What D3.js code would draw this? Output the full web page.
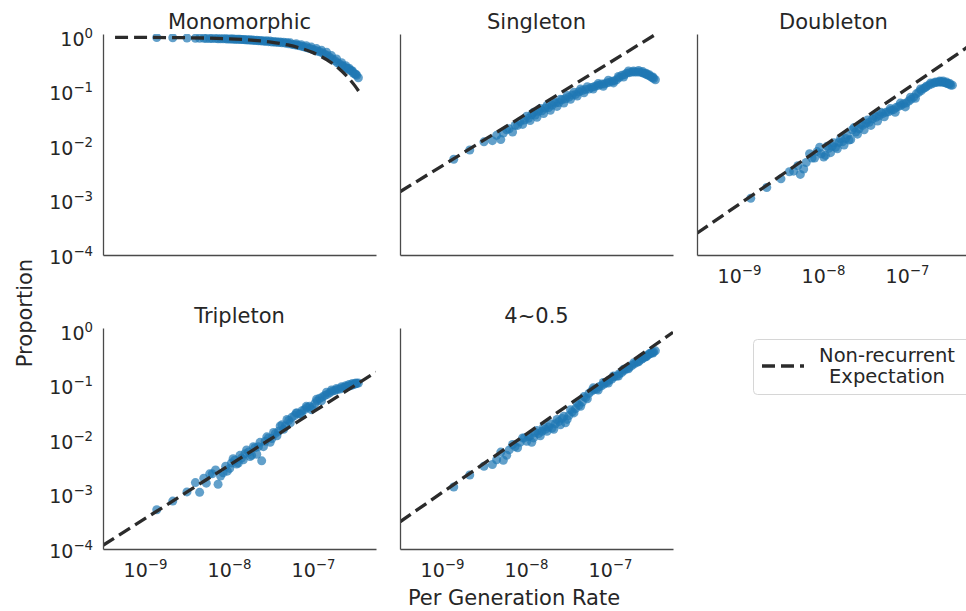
<!DOCTYPE html>
<html><head><meta charset="utf-8">
<script src="https://cdn.jsdelivr.net/npm/d3@7"></script>
<style>
body{margin:0;background:#fff}
svg{display:block}
text{font-family:"DejaVu Sans",sans-serif;fill:#262626}
</style>
</head><body>
<svg id="c" width="966" height="611"></svg>
<script>
// ---------- data ----------
const panelTitles = ["Monomorphic", "Singleton", "Doubleton", "Tripleton", "4~0.5"];
const xTicks = [1e-9, 1e-8, 1e-7];
const yTicks = [1e-4, 1e-3, 1e-2, 1e-1, 1];

// per generation rate, first group of bins (shared by all panels)
const rate = [1.38e-9, 2.14e-9, 3.16e-9, 3.98e-9, 4.47e-9, 5.37e-9, 6.31e-9, 7.41e-9, 8.51e-9, 9.55e-9,
  1.07e-8, 1.17e-8, 1.29e-8, 1.41e-8, 1.55e-8, 1.70e-8, 1.86e-8, 2.04e-8, 2.24e-8, 2.45e-8,
  2.69e-8, 2.95e-8, 3.24e-8, 3.55e-8, 3.89e-8, 4.27e-8, 4.68e-8, 5.13e-8, 5.62e-8, 6.03e-8,
  6.46e-8, 6.92e-8, 7.41e-8, 7.94e-8, 8.51e-8, 9.12e-8, 9.77e-8, 1.05e-7, 1.12e-7, 1.20e-7,
  1.29e-7, 1.38e-7, 1.48e-7, 1.58e-7, 1.70e-7, 1.82e-7, 1.95e-7, 2.09e-7, 2.24e-7, 2.40e-7,
  2.51e-7, 2.63e-7, 2.75e-7, 2.88e-7, 3.02e-7, 3.16e-7, 3.31e-7, 3.47e-7];

const monomorphic = [0.99, 0.98, 0.97, 0.96, 0.96, 0.95, 0.95, 0.94, 0.94, 0.93,
  0.93, 0.92, 0.92, 0.91, 0.90, 0.89, 0.88, 0.87, 0.86, 0.85,
  0.84, 0.83, 0.82, 0.81, 0.80, 0.79, 0.78, 0.76, 0.74, 0.73,
  0.71, 0.70, 0.68, 0.66, 0.64, 0.62, 0.60, 0.58, 0.56, 0.54,
  0.52, 0.49, 0.46, 0.43, 0.40, 0.37, 0.34, 0.32, 0.30, 0.28,
  0.27, 0.26, 0.25, 0.24, 0.22, 0.21, 0.20, 0.18];

const singleton = [5.75e-3, 8.51e-3, 1.20e-2, 1.26e-2, 1.58e-2, 1.74e-2, 2.09e-2, 2.40e-2, 2.82e-2, 3.02e-2,
  3.24e-2, 3.80e-2, 3.72e-2, 4.37e-2, 4.47e-2, 5.01e-2, 5.13e-2, 5.62e-2, 6.17e-2, 6.31e-2,
  7.08e-2, 7.41e-2, 7.94e-2, 8.71e-2, 8.91e-2, 0.100, 0.105, 0.110, 0.112, 0.120,
  0.123, 0.129, 0.132, 0.138, 0.138, 0.145, 0.148, 0.155, 0.158, 0.166,
  0.182, 0.200, 0.204, 0.219, 0.224, 0.229, 0.229, 0.229, 0.229, 0.224,
  0.219, 0.214, 0.204, 0.200, 0.191, 0.182, 0.174, 0.166];

const doubleton = [1.10e-3, 1.74e-3, 2.51e-3, 3.39e-3, 3.47e-3, 3.02e-3, 5.01e-3, 6.03e-3, 7.94e-3, 7.24e-3,
  6.76e-3, 9.12e-3, 1.00e-2, 9.55e-3, 1.17e-2, 1.20e-2, 1.38e-2, 1.29e-2, 2.00e-2, 1.82e-2,
  2.09e-2, 2.40e-2, 2.63e-2, 2.75e-2, 3.16e-2, 3.39e-2, 3.63e-2, 3.98e-2, 4.17e-2, 4.27e-2,
  4.57e-2, 4.68e-2, 5.13e-2, 5.37e-2, 5.62e-2, 6.03e-2, 6.17e-2, 6.76e-2, 7.24e-2, 7.94e-2,
  9.12e-2, 9.77e-2, 0.105, 0.115, 0.126, 0.132, 0.138, 0.145, 0.148, 0.151,
  0.151, 0.151, 0.148, 0.145, 0.141, 0.138, 0.132, 0.132];

const tripleton = [5.25e-4, 7.59e-4, 1.12e-3, 1.66e-3, 1.10e-3, 1.62e-3, 2.40e-3, 1.55e-3, 2.51e-3, 2.69e-3,
  3.80e-3, 4.27e-3, 3.80e-3, 4.68e-3, 5.62e-3, 6.03e-3, 5.25e-3, 7.24e-3, 7.59e-3, 4.17e-3,
  9.55e-3, 1.10e-2, 1.07e-2, 1.32e-2, 1.45e-2, 1.91e-2, 1.82e-2, 2.29e-2, 2.63e-2, 2.82e-2,
  3.16e-2, 3.02e-2, 3.47e-2, 3.63e-2, 3.98e-2, 4.17e-2, 3.98e-2, 4.68e-2, 5.25e-2, 5.89e-2,
  6.17e-2, 6.61e-2, 6.92e-2, 7.41e-2, 7.94e-2, 8.13e-2, 8.51e-2, 8.71e-2, 9.12e-2, 9.33e-2,
  9.55e-2, 9.77e-2, 0.100, 0.102, 0.105, 0.107, 0.110, 0.112];

const fourToHalf = [1.38e-3, 2.29e-3, 3.31e-3, 3.55e-3, 4.37e-3, 4.27e-3, 6.61e-3, 7.59e-3, 9.12e-3, 1.10e-2,
  1.15e-2, 9.12e-3, 1.38e-2, 1.32e-2, 1.45e-2, 1.58e-2, 1.74e-2, 1.66e-2, 2.00e-2, 2.19e-2,
  2.51e-2, 2.09e-2, 2.82e-2, 3.31e-2, 3.80e-2, 4.37e-2, 5.01e-2, 6.03e-2, 7.24e-2, 7.94e-2,
  8.51e-2, 8.71e-2, 9.55e-2, 0.100, 0.107, 0.115, 0.126, 0.132, 0.145, 0.151,
  0.166, 0.174, 0.191, 0.204, 0.219, 0.234, 0.251, 0.269, 0.288, 0.309,
  0.324, 0.339, 0.355, 0.372, 0.389, 0.407, 0.417, 0.437];

// second group of rate bins (interleaved, dense part of the range)
const rateB = [5.01e-9, 5.89e-9, 6.92e-9, 7.94e-9, 9.12e-9, 1.02e-8, 1.12e-8, 1.23e-8, 1.35e-8, 1.48e-8,
  1.62e-8, 1.78e-8, 1.95e-8, 2.14e-8, 2.34e-8, 2.57e-8, 2.82e-8, 3.09e-8, 3.39e-8, 3.72e-8,
  4.07e-8, 4.47e-8, 4.90e-8, 5.37e-8, 6.31e-8, 7.24e-8, 8.32e-8, 9.55e-8, 1.10e-7, 1.26e-7,
  1.45e-7, 1.66e-7, 1.91e-7, 2.19e-7, 2.45e-7, 2.69e-7, 2.95e-7, 3.24e-7];

const monomorphicB = [0.96, 0.95, 0.95, 0.94, 0.94, 0.93, 0.93, 0.92, 0.92, 0.91,
  0.90, 0.90, 0.89, 0.88, 0.87, 0.86, 0.86, 0.85, 0.84, 0.83,
  0.82, 0.81, 0.80, 0.79, 0.76, 0.73, 0.70, 0.66, 0.62, 0.58,
  0.53, 0.46, 0.40, 0.34, 0.30, 0.27, 0.24, 0.21];

const singletonB = [1.32e-2, 2.00e-2, 1.82e-2, 2.40e-2, 2.51e-2, 3.55e-2, 2.95e-2, 4.17e-2, 3.39e-2, 4.90e-2,
  3.98e-2, 5.62e-2, 4.57e-2, 6.46e-2, 5.37e-2, 7.24e-2, 6.17e-2, 8.51e-2, 7.24e-2, 9.77e-2,
  8.32e-2, 0.112, 9.55e-2, 0.123, 0.112, 0.141, 0.126, 0.162, 0.145, 0.191,
  0.186, 0.240, 0.240, 0.245, 0.234, 0.219, 0.204, 0.186];

const doubletonB = [4.37e-3, 3.80e-3, 7.24e-3, 6.03e-3, 9.55e-3, 6.31e-3, 1.00e-2, 7.59e-3, 1.15e-2, 8.91e-3,
  1.38e-2, 1.05e-2, 1.58e-2, 1.32e-2, 2.19e-2, 1.66e-2, 2.51e-2, 2.00e-2, 3.02e-2, 2.40e-2,
  3.63e-2, 2.88e-2, 4.17e-2, 3.47e-2, 4.90e-2, 4.17e-2, 6.17e-2, 5.25e-2, 7.94e-2, 7.59e-2,
  0.112, 0.120, 0.145, 0.151, 0.158, 0.158, 0.151, 0.141];

const tripletonB = [2.00e-3, 2.40e-3, 2.82e-3, 2.19e-3, 3.31e-3, 3.02e-3, 4.57e-3, 3.63e-3, 5.25e-3, 4.37e-3,
  6.61e-3, 5.01e-3, 7.59e-3, 5.50e-3, 9.12e-3, 7.59e-3, 1.15e-2, 9.12e-3, 1.38e-2, 1.20e-2,
  1.82e-2, 1.58e-2, 2.40e-2, 2.09e-2, 3.16e-2, 3.02e-2, 4.17e-2, 3.63e-2, 5.62e-2, 5.25e-2,
  7.59e-2, 8.32e-2, 8.91e-2, 9.55e-2, 0.100, 0.105, 0.110, 0.112];

const fourToHalfB = [6.03e-3, 5.25e-3, 8.32e-3, 7.24e-3, 1.10e-2, 9.55e-3, 1.20e-2, 1.10e-2, 1.51e-2, 1.20e-2,
  1.74e-2, 1.45e-2, 2.00e-2, 1.58e-2, 2.40e-2, 1.91e-2, 2.75e-2, 2.40e-2, 3.63e-2, 3.16e-2,
  4.79e-2, 4.17e-2, 6.31e-2, 5.75e-2, 9.12e-2, 8.32e-2, 0.115, 0.112, 0.151, 0.151,
  0.200, 0.204, 0.263, 0.275, 0.331, 0.339, 0.389, 0.398];

// non-recurrent expectation lines
const monoExpRate = [4.4e-10, 3.16e-9, 1e-8, 2e-8, 3.16e-8, 5.0e-8, 7.08e-8, 1e-7, 1.26e-7, 1.58e-7, 2.0e-7, 2.51e-7, 3.16e-7, 3.55e-7];
const monoExp = [0.997, 0.98, 0.937, 0.878, 0.814, 0.722, 0.631, 0.522, 0.441, 0.358, 0.273, 0.195, 0.128, 0.099];
const lineRate = [3.162e-10, 5.623e-7];
const singletonExp = [1.45e-3, 1.78];
const doubletonExp = [2.51e-4, 0.71];
const tripletonExp = [1.17e-4, 0.178];
const fourToHalfExp = [3.16e-4, 0.955];

const legendLines = ["Non-recurrent", "Expectation"];
const xLabel = "Per Generation Rate";
const yLabel = "Proportion";

// ---------- layout ----------
const svg = d3.select("#c");
const W = 273, H = 221;
const colX = [103, 400, 697];
const rowY = [34, 328];
const layout = [[0,0],[1,0],[2,0],[0,1],[1,1]];
const showX = [false, false, true, true, true];
const showY = [true, false, false, true, false];
const seriesA = [monomorphic, singleton, doubleton, tripleton, fourToHalf];
const seriesB = [monomorphicB, singletonB, doubletonB, tripletonB, fourToHalfB];
const expX = [monoExpRate, lineRate, lineRate, lineRate, lineRate];
const expY = [monoExp, singletonExp, doubletonExp, tripletonExp, fourToHalfExp];

const x = d3.scaleLog().domain([3.162e-10, 5.623e-7]).range([0, W]);
const y = d3.scaleLog().domain([1e-4, 1.148]).range([H, 0]);

function supLabel(textSel) {
  textSel.each(function(d) {
    const t = d3.select(this);
    const e = Math.round(Math.log10(d));
    t.text(null);
    t.append("tspan").text("10");
    t.append("tspan").attr("dy", -8).attr("font-size", 13.3)
      .text(e < 0 ? "\u2212" + (-e) : String(e));
  });
}

panelTitles.forEach((title, i) => {
  const [c, r] = layout[i];
  const g = svg.append("g").attr("transform", `translate(${colX[c]},${rowY[r]})`);

  g.append("clipPath").attr("id", "clip" + i)
    .append("rect").attr("x", 0).attr("y", 0).attr("width", W).attr("height", H);

  const plot = g.append("g").attr("clip-path", `url(#clip${i})`);

  const pts = rate.map((v, k) => [v, seriesA[i][k]])
    .concat(rateB.map((v, k) => [v, seriesB[i][k]]));

  plot.selectAll("circle").data(pts)
    .join("circle")
    .attr("cx", d => x(d[0])).attr("cy", d => y(d[1]))
    .attr("r", 4.5)
    .attr("fill", "#1f77b4").attr("fill-opacity", 0.7);

  const line = d3.line().x(d => x(d[0])).y(d => y(d[1])).curve(d3.curveMonotoneX);
  plot.append("path")
    .datum(expX[i].map((v, k) => [v, expY[i][k]]))
    .attr("d", line)
    .attr("fill", "none").attr("stroke", "#2b2b2b").attr("stroke-width", 3.3)
    .attr("stroke-dasharray", "13,6");

  const ax = d3.axisLeft(y).tickValues(yTicks).tickSize(0).tickSizeOuter(0).tickPadding(10);
  const ga = g.append("g").call(ax);
  ga.select(".domain").attr("stroke", "#4a4a4a").attr("stroke-width", 1.3);
  if (showY[i]) {
    ga.selectAll(".tick text").attr("dy", null).attr("y", 8)
      .attr("font-size", 19).attr("font-family", "DejaVu Sans").attr("fill", "#262626")
      .call(supLabel);
  } else {
    ga.selectAll(".tick").remove();
  }

  const bx = d3.axisBottom(x).tickValues(xTicks).tickSize(0).tickSizeOuter(0);
  const gb = g.append("g").attr("transform", `translate(0,${H})`).call(bx);
  gb.select(".domain").attr("stroke", "#4a4a4a").attr("stroke-width", 1.3);
  if (showX[i]) {
    gb.selectAll(".tick text").attr("dy", null).attr("y", 28)
      .attr("font-size", 19).attr("font-family", "DejaVu Sans").attr("fill", "#262626")
      .call(supLabel);
  } else {
    gb.selectAll(".tick").remove();
  }

  g.append("text").attr("x", W / 2).attr("y", -5)
    .attr("text-anchor", "middle").attr("font-size", 21).text(title);
});

svg.append("text").attr("x", 514).attr("y", 605).attr("text-anchor", "middle")
  .attr("font-size", 21).text(xLabel);
svg.append("text").attr("transform", "translate(32,313) rotate(-90)")
  .attr("text-anchor", "middle").attr("font-size", 21).text(yLabel);

const lg = svg.append("g");
lg.append("rect").attr("x", 753.5).attr("y", 339.5).attr("width", 240).attr("height", 55)
  .attr("rx", 4).attr("fill", "#fff").attr("stroke", "#d6d6d6").attr("stroke-width", 1);
lg.append("line").attr("x1", 762).attr("x2", 804).attr("y1", 366).attr("y2", 366)
  .attr("stroke", "#2b2b2b").attr("stroke-width", 3.3).attr("stroke-dasharray", "13,6");
legendLines.forEach((t, k) => {
  lg.append("text").attr("x", 887).attr("y", 362 + k * 21).attr("text-anchor", "middle")
    .attr("font-size", 19.5).text(t);
});
</script>
</body></html>
